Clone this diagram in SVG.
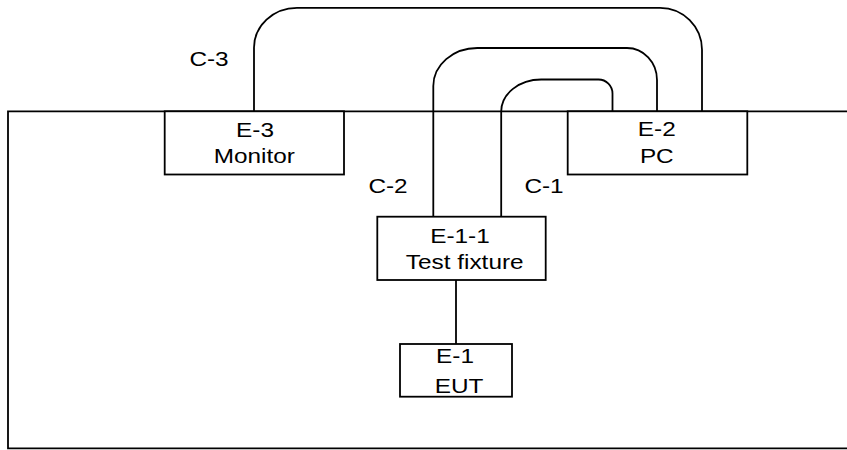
<svg xmlns="http://www.w3.org/2000/svg" width="847" height="450" viewBox="0 0 847 450">
<style>
.ln{fill:none;stroke:#000;stroke-width:1.8}
.bx{fill:#fff;stroke:#000;stroke-width:1.8}
.t{font-family:"Liberation Sans",Arial,sans-serif;font-size:21px;fill:#000;text-anchor:middle}
</style>
<rect width="847" height="450" fill="#fff"/>
<g id="room">
<path class="ln" d="M847 111.3 H8 V448.3 H847"/>
</g>
<g id="connectors">
<path id="c3" class="ln" d="M254 111 V48 A43 40 0 0 1 297 7.8 H660 A42 42 0 0 1 702 49.8 V111"/>
<path id="c2" class="ln" d="M433.3 216.7 V86 A44 38 0 0 1 477.3 48 H627 A30 32 0 0 1 657 80 V111"/>
<path id="c1" class="ln" d="M501.2 216.7 V111.5 A40 32 0 0 1 541.2 79.5 H598.5 A14 14 0 0 1 612.5 93.5 V111"/>
<path id="e11-e1" class="ln" d="M456 280 V344"/>
<text class="t" transform="translate(209 65.7) scale(1.16 1)">C-3</text>
<text class="t" transform="translate(388 193.3) scale(1.16 1)">C-2</text>
<text class="t" transform="translate(544 193.3) scale(1.16 1)">C-1</text>
</g>
<g id="e3">
<rect class="bx" x="164.7" y="111.3" width="179.3" height="63.2"/>
<text class="t" transform="translate(255 136.7) scale(1.16 1)">E-3</text>
<text class="t" transform="translate(254.3 163.3) scale(1.16 1)">Monitor</text>
</g>
<g id="e2">
<rect class="bx" x="567.7" y="111.3" width="179.6" height="63.2"/>
<text class="t" transform="translate(656.8 135.5) scale(1.16 1)">E-2</text>
<text class="t" transform="translate(656.8 163.3) scale(1.16 1)">PC</text>
</g>
<g id="e11">
<rect class="bx" x="377.3" y="216.7" width="168.4" height="63.3"/>
<text class="t" transform="translate(460 243.3) scale(1.16 1)">E-1-1</text>
<text class="t" transform="translate(464.7 269.3) scale(1.16 1)">Test fixture</text>
</g>
<g id="e1">
<rect class="bx" x="400" y="344" width="112" height="52.7"/>
<text class="t" transform="translate(455 363.3) scale(1.16 1)">E-1</text>
<text class="t" transform="translate(459 392.7) scale(1.16 1)">EUT</text>
</g>
</svg>
